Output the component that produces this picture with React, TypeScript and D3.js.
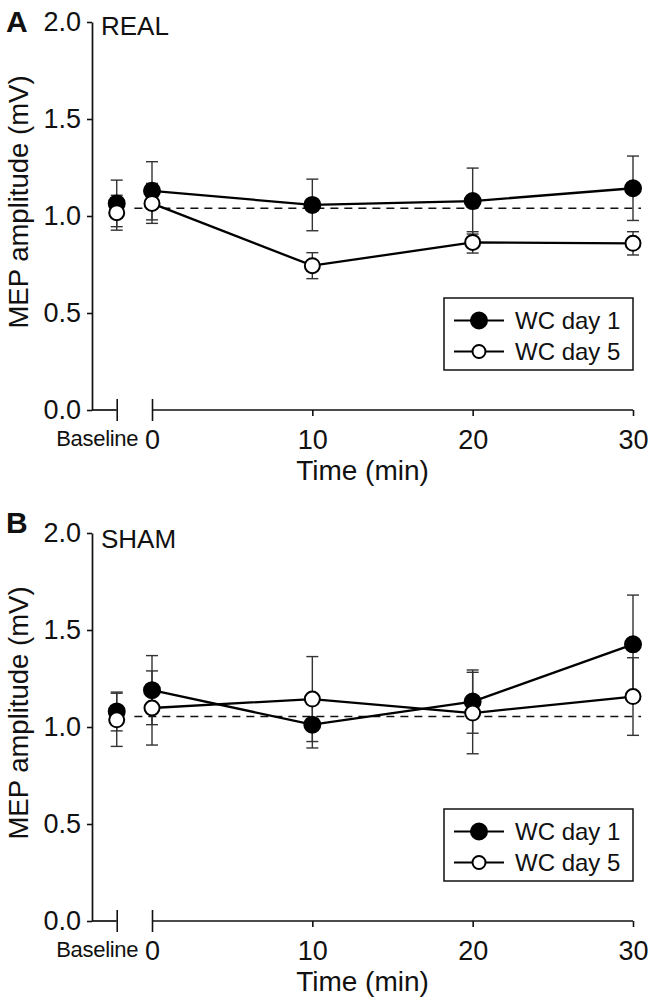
import React, { useRef, useEffect } from "react";
import * as d3 from "d3";

const WIDTH = 650;
const HEIGHT = 1007;
const FONT = "'Liberation Sans', Arial, Helvetica, sans-serif";

// x positions: baseline sits left of the axis break
const timeLabels = ["Baseline", "0", "10", "20", "30"];
const timePos = [-2.2, 0, 10, 20, 30];
const yTicks = [0, 0.5, 1.0, 1.5, 2.0];
const seriesNames = ["WC day 1", "WC day 5"];

// panel A - REAL
const realDay1 = [1.065, 1.13, 1.057, 1.077, 1.143];
const realDay1Err = [0.12, 0.15, 0.133, 0.17, 0.166];
const realDay5 = [1.017, 1.065, 0.744, 0.864, 0.859];
const realDay5Err = [0.09, 0.103, 0.067, 0.055, 0.06];
const realBase = 1.04;

// panel B - SHAM
const shamDay1 = [1.08, 1.19, 1.012, 1.131, 1.426];
const shamDay1Err = [0.1, 0.178, 0.12, 0.163, 0.254];
const shamDay5 = [1.037, 1.098, 1.144, 1.072, 1.157];
const shamDay5Err = [0.137, 0.191, 0.219, 0.21, 0.2];
const shamBase = 1.054;

const baseLineSpan = [-1.1, 30.5];

const panels = [
  { letter: "A", title: "REAL", top: 22, letterDy: 10, titleDy: 13, day1: realDay1, day1Err: realDay1Err, day5: realDay5, day5Err: realDay5Err, base: realBase },
  { letter: "B", title: "SHAM", top: 533, letterDy: 0, titleDy: 15, day1: shamDay1, day1Err: shamDay1Err, day5: shamDay5, day5Err: shamDay5Err, base: shamBase },
];

const drawPanel = (svg, p) => {
  const axisX = 92;
  const x = d3.scaleLinear().domain([0, 30]).range([152, 633]);
  const y = d3.scaleLinear().domain([0, 2]).range([p.top + 388, p.top]);
  const y0 = y(0);
  const g = svg.append("g");

  // y axis
  const ya = g.append("g")
    .attr("transform", `translate(${axisX},0)`)
    .call(d3.axisLeft(y).tickValues(yTicks).tickFormat(d3.format(".1f")).tickSize(5).tickSizeOuter(0).tickPadding(6));
  ya.attr("font-size", 27).attr("font-family", FONT);
  ya.select(".domain").attr("stroke", "#111").attr("stroke-width", 1.7);
  ya.selectAll(".tick line").attr("stroke", "#111").attr("stroke-width", 1.6);
  ya.selectAll(".tick text").attr("fill", "#111");

  // x axis with break
  const xa = g.append("g")
    .attr("transform", `translate(0,${y0})`)
    .call(d3.axisBottom(x).tickValues(timePos).tickFormat((d, i) => timeLabels[i]).tickSize(6).tickSizeOuter(0).tickPadding(14));
  xa.attr("font-size", 27).attr("font-family", FONT);
  xa.select(".domain").remove();
  xa.selectAll(".tick line").attr("stroke", "#111").attr("stroke-width", 1.6)
    .filter((d, i) => i < 2).attr("y1", -11).attr("y2", 11);
  xa.selectAll(".tick text").attr("fill", "#111")
    .filter((d, i) => i === 0)
    .attr("x", 21).attr("text-anchor", "end").attr("font-size", 22)
    .attr("letter-spacing", -0.3);

  xa.append("line").attr("x1", 0).attr("x2", x(timePos[0]) - axisX)
    .attr("transform", `translate(${axisX},0)`)
    .attr("stroke", "#111").attr("stroke-width", 1.7);
  xa.append("line").attr("x1", x(0)).attr("x2", x(30))
    .attr("stroke", "#111").attr("stroke-width", 1.7);

  // axis titles
  g.append("text")
    .attr("x", (axisX + x(30)) / 2)
    .attr("y", y0 + 70)
    .attr("text-anchor", "middle")
    .attr("font-family", FONT).attr("font-size", 28).attr("fill", "#111")
    .text("Time (min)");

  g.append("text")
    .attr("transform", `translate(28,${(y(0) + y(2)) / 2 - 14}) rotate(-90)`)
    .attr("text-anchor", "middle")
    .attr("font-family", FONT).attr("font-size", 27.5).attr("fill", "#111")
    .text("MEP amplitude (mV)");

  // panel letter and title
  g.append("text")
    .attr("x", 6).attr("y", p.top + p.letterDy)
    .attr("font-family", FONT).attr("font-size", 30).attr("font-weight", "bold").attr("fill", "#111")
    .text(p.letter);
  g.append("text")
    .attr("x", 101).attr("y", p.top + p.titleDy)
    .attr("font-family", FONT).attr("font-size", 26).attr("fill", "#111")
    .text(p.title);

  // baseline reference
  g.append("line")
    .attr("x1", x(baseLineSpan[0])).attr("x2", x(baseLineSpan[1]))
    .attr("y1", y(p.base)).attr("y2", y(p.base))
    .attr("stroke", "#111").attr("stroke-width", 1.5).attr("stroke-dasharray", "8,6");

  const series = [
    { vals: p.day1, errs: p.day1Err, fill: "#000", r: 8 },
    { vals: p.day5, errs: p.day5Err, fill: "#fff", r: 7.5 },
  ];

  // error bars
  series.forEach((s) => {
    const eb = g.append("g");
    s.vals.forEach((v, i) => {
      const cx = x(timePos[i]);
      eb.append("line").attr("x1", cx).attr("x2", cx)
        .attr("y1", y(v - s.errs[i])).attr("y2", y(v + s.errs[i]))
        .attr("stroke", "#333").attr("stroke-width", 1.4);
      [v - s.errs[i], v + s.errs[i]].forEach((e) => {
        eb.append("line").attr("x1", cx - 6).attr("x2", cx + 6)
          .attr("y1", y(e)).attr("y2", y(e))
          .attr("stroke", "#333").attr("stroke-width", 1.4);
      });
    });
  });

  const line = d3.line().x((d) => x(d[0])).y((d) => y(d[1]));

  series.forEach((s) => {
    const pts = s.vals.map((v, i) => [timePos[i], v]).slice(1);
    g.append("path").attr("d", line(pts))
      .attr("fill", "none").attr("stroke", "#000").attr("stroke-width", 2.3);
    g.selectAll(null).data(s.vals).enter().append("circle")
      .attr("cx", (d, i) => x(timePos[i])).attr("cy", (d) => y(d))
      .attr("r", s.r).attr("fill", s.fill).attr("stroke", "#000").attr("stroke-width", 2);
  });

  // legend
  const lx = x(30) - 189;
  const ly = p.top + 276;
  const lg = g.append("g").attr("transform", `translate(${lx},${ly})`);
  lg.append("rect").attr("width", 189).attr("height", 72)
    .attr("fill", "#fff").attr("stroke", "#111").attr("stroke-width", 1.5);
  seriesNames.forEach((name, i) => {
    const ry = 22.5 + i * 31;
    lg.append("line").attr("x1", 10).attr("x2", 60).attr("y1", ry).attr("y2", ry)
      .attr("stroke", "#000").attr("stroke-width", 2);
    lg.append("circle").attr("cx", 35).attr("cy", ry).attr("r", i === 0 ? 8 : 6.5)
      .attr("fill", series[i].fill).attr("stroke", "#000").attr("stroke-width", 2);
    lg.append("text").attr("x", 71).attr("y", ry).attr("dy", "0.36em")
      .attr("font-family", FONT).attr("font-size", 24).attr("fill", "#111")
      .text(name);
  });
};

const App = () => {
  const ref = useRef(null);

  useEffect(() => {
    document.body.style.margin = "0";
    const svg = d3.select(ref.current);
    svg.selectAll("*").remove();
    panels.forEach((p) => drawPanel(svg, p));
  }, []);

  return <svg ref={ref} width={WIDTH} height={HEIGHT} style={{ display: "block", background: "#fff" }}></svg>;
};

export default App;
